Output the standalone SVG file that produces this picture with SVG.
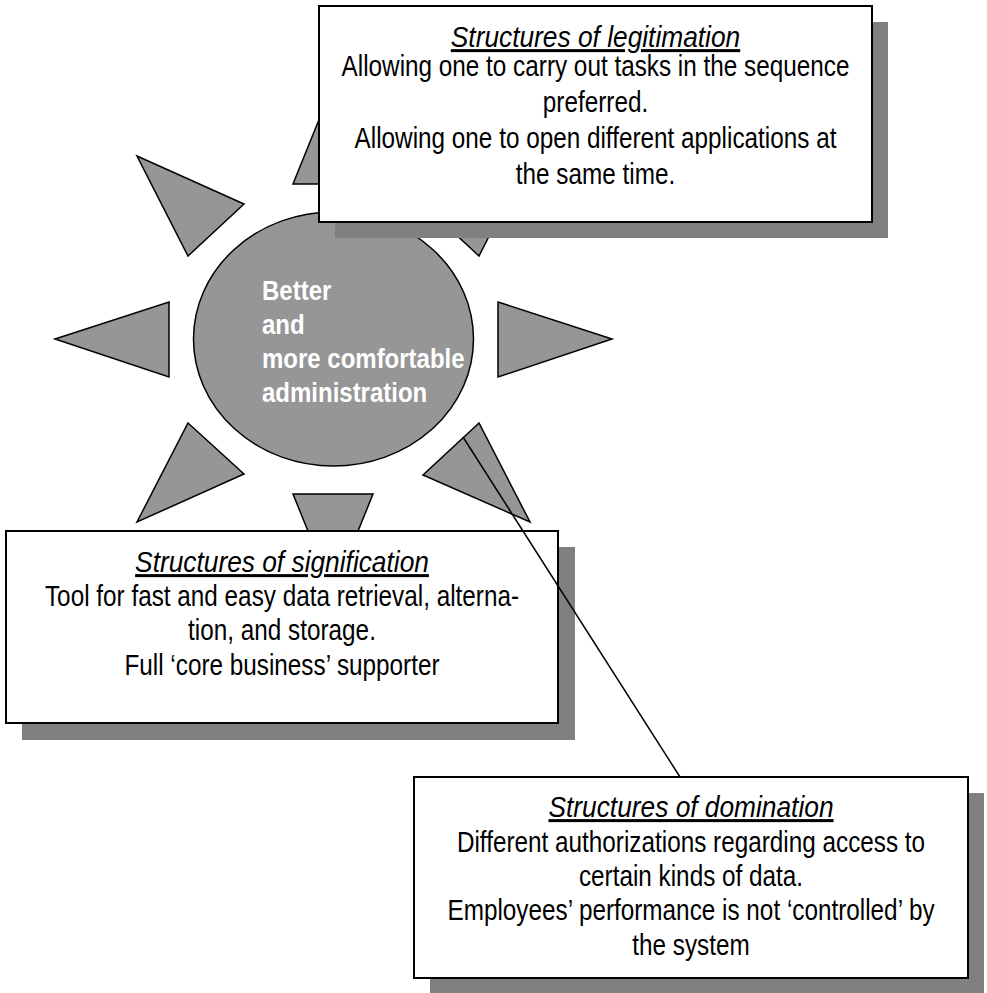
<svg xmlns="http://www.w3.org/2000/svg" width="987" height="993" viewBox="0 0 987 993">
  <style>
    .ray { fill: #969696; stroke: #000; stroke-width: 1.5; stroke-linejoin: miter; }
    .core { fill: #969696; stroke: #000; stroke-width: 1.5; }
    .shadow { fill: #808080; stroke: none; }
    .box { fill: #fff; stroke: #000; stroke-width: 2; }
    .title { font-family: "Liberation Sans", Arial, sans-serif; font-size: 30px; font-style: italic; text-decoration: underline; text-anchor: middle; fill: #000; }
    .body { font-family: "Liberation Sans", Arial, sans-serif; font-size: 29px; text-anchor: middle; fill: #000; }
    .core-text { font-family: "Liberation Sans", Arial, sans-serif; font-size: 28px; font-weight: bold; fill: #fff; }
    .link { fill: none; stroke: #000; stroke-width: 1.5; }
  </style>

  <!-- sun: rays around the central ellipse -->
  <g id="sun">
    <polygon class="ray" points="137,156 244,204 188,256"/>
    <polygon class="ray" points="293,184 373,184 333,85"/>
    <polygon class="ray" points="530,156 423,204 479,256"/>
    <polygon class="ray" points="55,339 169,302 169,377"/>
    <polygon class="ray" points="612,339 498,302 498,377"/>
    <polygon class="ray" points="188,423 244,474 137,522"/>
    <polygon class="ray" points="293,494 373,494 333,593"/>
    <polygon class="ray" points="479,423 423,475 530,522"/>
  </g>

  <g id="core">
    <ellipse class="core" cx="333.5" cy="339" rx="140" ry="127"/>
    <g transform="translate(262 0) scale(0.857 1)">
      <text class="core-text" x="0" y="300">Better</text>
      <text class="core-text" x="0" y="334">and</text>
      <text class="core-text" x="0" y="368">more comfortable</text>
      <text class="core-text" x="0" y="402">administration</text>
    </g>
  </g>

  <g id="legitimation">
    <rect class="shadow" x="335" y="22" width="553" height="216"/>
    <rect class="box" x="319" y="6" width="553" height="216"/>
    <g transform="translate(595.5 0) scale(0.877 1)">
      <text class="title" x="0" y="47">Structures of legitimation</text>
    </g>
    <g transform="translate(595.5 0) scale(0.838 1)">
      <text class="body" x="0" y="76">Allowing one to carry out tasks in the sequence</text>
      <text class="body" x="0" y="112">preferred.</text>
      <text class="body" x="0" y="148">Allowing one to open different applications at</text>
      <text class="body" x="0" y="184">the same time.</text>
    </g>
  </g>

  <g id="signification">
    <rect class="shadow" x="22" y="547" width="553" height="193"/>
    <rect class="box" x="6" y="531" width="552" height="192"/>
    <g transform="translate(282 0) scale(0.877 1)">
      <text class="title" x="0" y="572">Structures of signification</text>
    </g>
    <g transform="translate(282 0) scale(0.838 1)">
      <text class="body" x="0" y="606">Tool for fast and easy data retrieval, alterna-</text>
      <text class="body" x="0" y="640">tion, and storage.</text>
      <text class="body" x="0" y="675">Full ‘core business’ supporter</text>
    </g>
  </g>

  <g id="domination">
    <rect class="shadow" x="430" y="793" width="554" height="201"/>
    <rect class="box" x="414" y="777" width="554" height="201"/>
    <g transform="translate(691 0) scale(0.877 1)">
      <text class="title" x="0" y="817">Structures of domination</text>
    </g>
    <g transform="translate(691 0) scale(0.838 1)">
      <text class="body" x="0" y="852">Different authorizations regarding access to</text>
      <text class="body" x="0" y="886">certain kinds of data.</text>
      <text class="body" x="0" y="920">Employees’ performance is not ‘controlled’ by</text>
      <text class="body" x="0" y="955">the system</text>
    </g>
  </g>

  <g id="connectors">
    <line class="link" x1="463" y1="437" x2="680" y2="777"/>
  </g>
</svg>
